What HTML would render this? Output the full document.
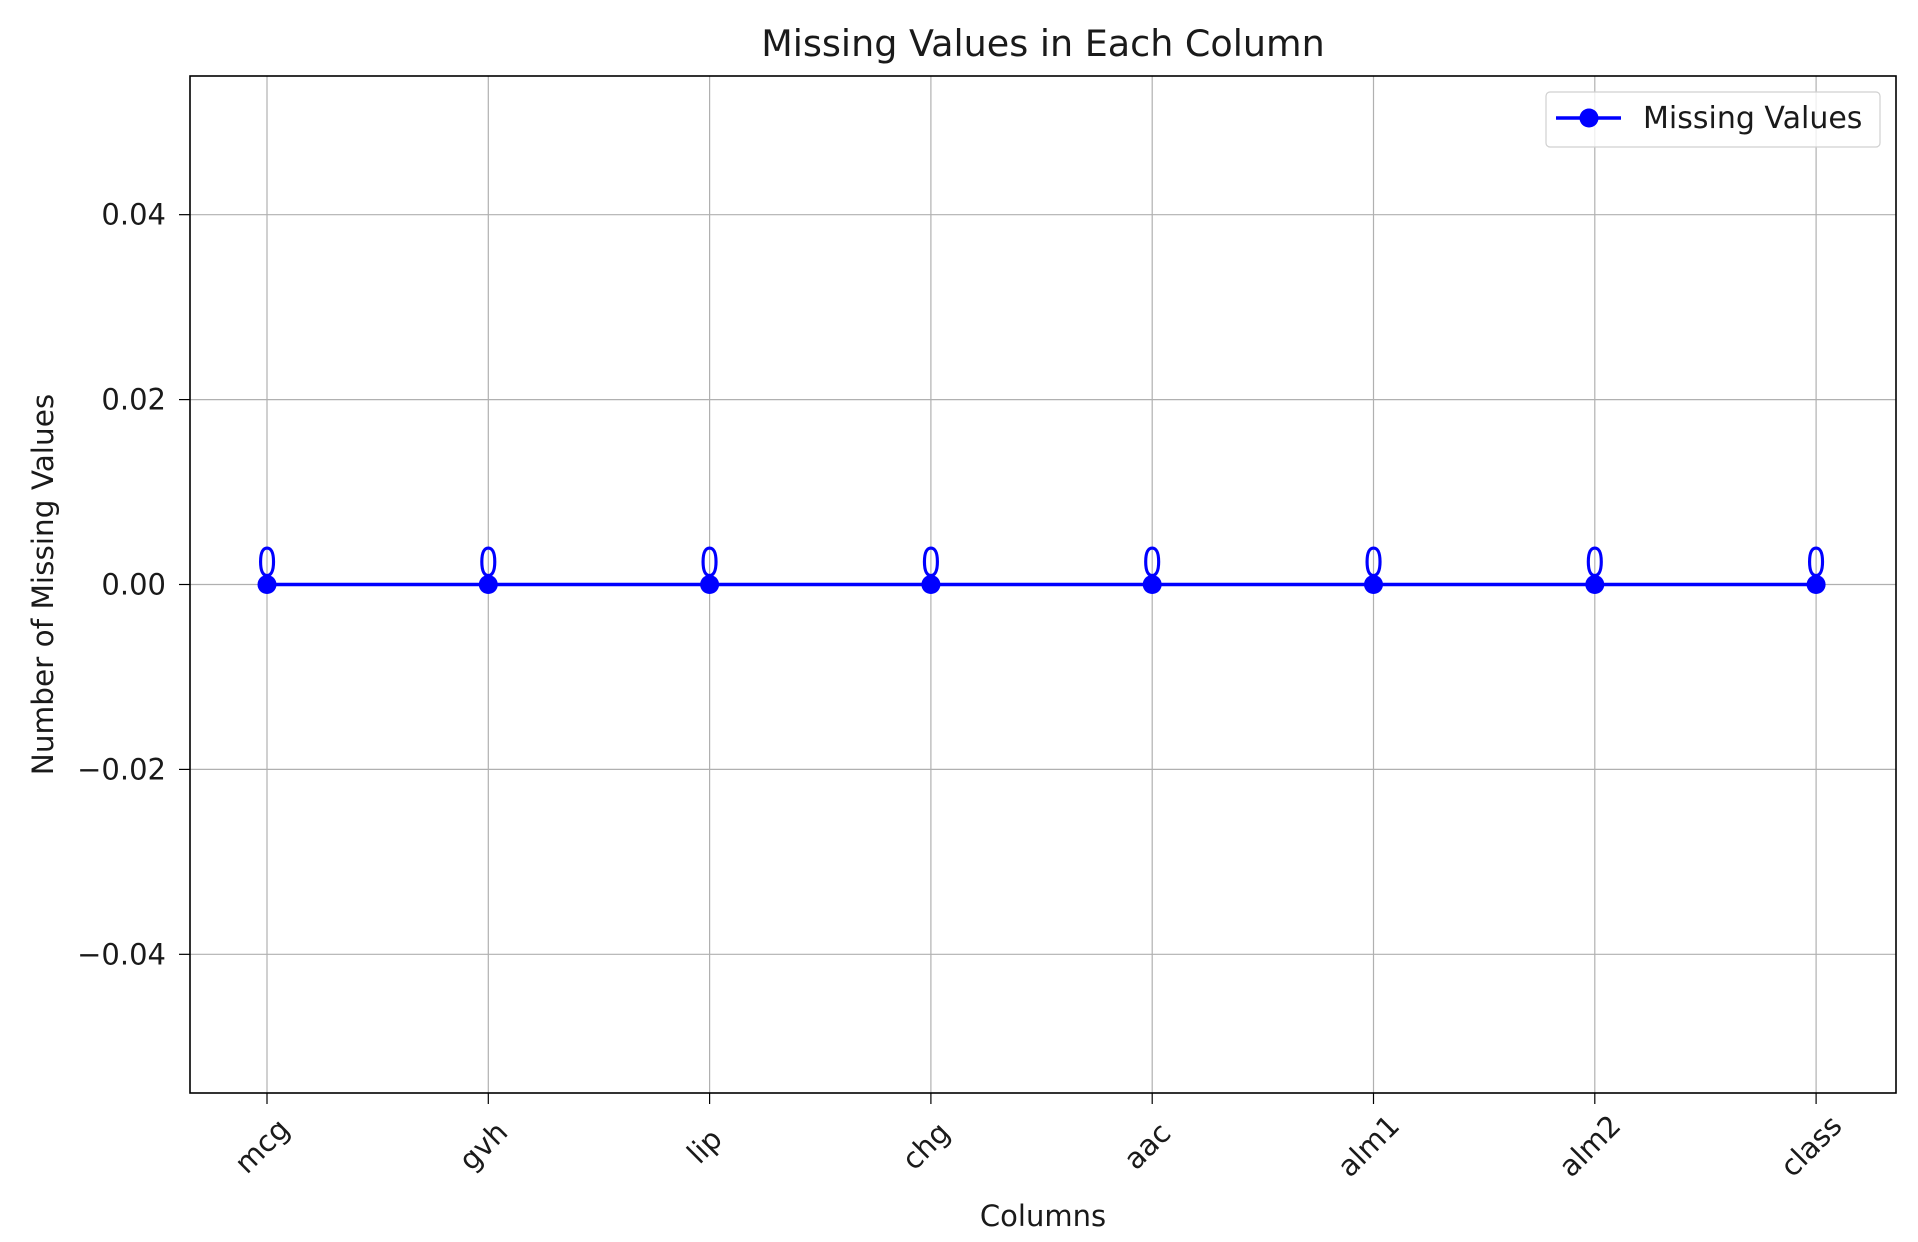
<!DOCTYPE html>
<html><head><meta charset="utf-8"><style>
html,body{margin:0;padding:0;background:#fff;}
svg{display:block;font-family:"DejaVu Sans","Liberation Sans",sans-serif;}
</style></head><body>
<svg id="chart" width="1918" height="1242" viewBox="0 0 1918 1242" xmlns="http://www.w3.org/2000/svg">
<rect width="1918" height="1242" fill="#fff"/>
<g id="grid"></g>
<g id="axes"></g>
<g id="marks"></g>
<text x="1043" y="56" font-size="36.5" text-anchor="middle" fill="#1a1a1a">Missing Values in Each Column</text>
<text x="1043" y="1226" font-size="29" text-anchor="middle" fill="#1a1a1a">Columns</text>
<text transform="translate(53,584.5) rotate(-90)" font-size="29.5" text-anchor="middle" fill="#1a1a1a">Number of Missing Values</text>
<g>
<rect x="1546" y="92" width="334" height="55" rx="4" fill="#fff" fill-opacity="0.8" stroke="#d0d0d0" stroke-width="1.2"/>
<line x1="1556" y1="118" x2="1621" y2="118" stroke="#0000ff" stroke-width="3.5"/>
<circle cx="1589" cy="118" r="9.5" fill="#0000ff"/>
<text x="1643" y="128" font-size="30" fill="#1a1a1a">Missing Values</text>
</g>
</svg>
<script>
const categories = ["mcg","gvh","lip","chg","aac","alm1","alm2","class"];
const missingValues = [0,0,0,0,0,0,0,0];
const yTicks = [-0.04,-0.02,0.00,0.02,0.04];
const yTickLabels = ["\u22120.04","\u22120.02","0.00","0.02","0.04"];

const L=190,R=1896,T=76,B=1093;
const yMin=-0.055,yMax=0.055;
const x0=267, xStep=221.3;
function xs(i){return x0+i*xStep;}
function ys(v){return B-(v-yMin)/(yMax-yMin)*(B-T);}
const NS="http://www.w3.org/2000/svg";
function mk(tag,attrs,parent){const e=document.createElementNS(NS,tag);for(const k in attrs)e.setAttribute(k,attrs[k]);parent.appendChild(e);return e;}
const grid=document.getElementById('grid'),axes=document.getElementById('axes'),marks=document.getElementById('marks');

categories.forEach((c,i)=>{
  const x=xs(i);
  const g=mk('line',{x1:x,y1:T,x2:x,y2:B,stroke:'#b0b0b0','stroke-width':1.2},grid);
  
  
  const t=mk('line',{x1:x,y1:B,x2:x,y2:B+11,stroke:'#000','stroke-width':1.2},axes);
  
  
  const lb=mk('text',{transform:`translate(${x+2},${B+60}) rotate(-45)`,'font-size':29,'text-anchor':'middle',fill:'#1a1a1a'},axes);
  
  
  lb.textContent=c;
});
yTicks.forEach((v,i)=>{
  const y=ys(v);
  const g=mk('line',{x1:L,y1:y,x2:R,y2:y,stroke:'#b0b0b0','stroke-width':1.2},grid);
  
  
  const t=mk('line',{x1:L-11,y1:y,x2:L,y2:y,stroke:'#000','stroke-width':1.2},axes);
  
  
  const lb=mk('text',{x:166,y:y+10,'font-size':29,'text-anchor':'end',fill:'#1a1a1a'},axes);
  
  
  lb.textContent=yTickLabels[i];
});
const frame=mk('rect',{x:L,y:T,width:R-L,height:B-T,fill:'none',stroke:'#000','stroke-width':1.6},axes);



const pts=missingValues.map((v,i)=>xs(i)+','+ys(v)).join(' ');
const line=mk('polyline',{points:pts,fill:'none',stroke:'#0000ff','stroke-width':3.5},marks);


missingValues.forEach((v,i)=>{
  const c=mk('circle',{cx:xs(i),cy:ys(v),r:9.5,fill:'#0000ff'},marks);
  
  
  const a=mk('text',{transform:`translate(${xs(i)},${ys(v)-8}) scale(0.8,1)`,'font-size':40,'text-anchor':'middle',fill:'#0000ff'},marks);
  
  
  a.textContent=String(v);
});
</script>
</body></html>
